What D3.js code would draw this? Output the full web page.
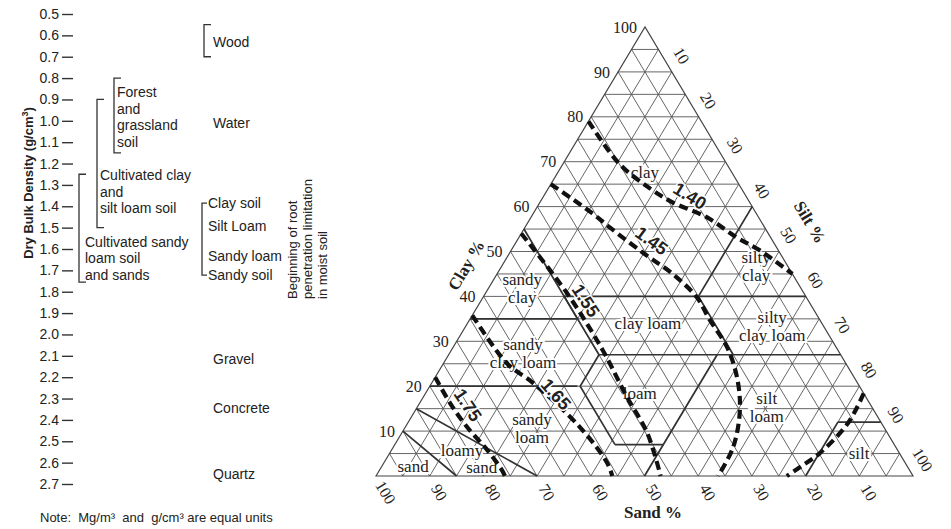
<!DOCTYPE html>
<html>
<head>
<meta charset="utf-8">
<script src="https://cdn.jsdelivr.net/npm/d3@7"></script>
<style>
body { margin: 0; background: #fff; }
text { fill: #222; }
</style>
</head>
<body>
<script>
var w = 951,
    h = 529;

// ---- left panel values (g/cm3) ----
var densityTicks = [0.5, 0.6, 0.7, 0.8, 0.9, 1.0, 1.1, 1.2, 1.3, 1.4, 1.5, 1.6, 1.7, 1.8, 1.9, 2.0, 2.1, 2.2, 2.3, 2.4, 2.5, 2.6, 2.7];
var materials = ['Wood', 'Water', 'Gravel', 'Concrete', 'Quartz'];
var materialDensity = [0.63, 1.01, 2.115, 2.345, 2.655];
var woodRange = [0.55, 0.70];
var soilNames = [['Forest', 'and', 'grassland', 'soil'],
                 ['Cultivated clay', 'and', 'silt loam soil'],
                 ['Cultivated sandy', 'loam soil', 'and sands']];
var soilRanges = [[0.80, 1.15], [0.90, 1.50], [1.25, 1.755]];
var soilLabelAt = [0.865, 1.255, 1.565];
var rootSoils = ['Clay soil', 'Silt Loam', 'Sandy loam', 'Sandy soil'];
var rootDensity = [1.385, 1.49, 1.633, 1.722];
var rootNote = ['Beginning of root', 'penetration limitation', 'in moist soil'];

// ---- texture triangle values, points are [clay %, silt %] ----
var ternTicks = [10, 20, 30, 40, 50, 60, 70, 80, 90, 100];
var classBounds = [
  [[40, 15], [40, 60]],
  [[40, 40], [60, 40]],
  [[40, 15], [55, 0]],
  [[35, 0], [35, 20]],
  [[35, 20], [40, 15]],
  [[40, 15], [27, 28]],
  [[27, 28], [27, 73]],
  [[40, 40], [27, 53]],
  [[20, 0], [20, 27.5]],
  [[27, 28], [20, 28], [7, 41]],
  [[7, 41], [7, 50]],
  [[0, 50], [27, 50]],
  [[12, 80], [12, 88]],
  [[12, 80], [0, 80]],
  [[15, 0], [0, 30]],
  [[10, 0], [0, 15]]
];
var classNames = [['clay'], ['silty', 'clay'], ['sandy', 'clay'], ['clay loam'], ['silty', 'clay loam'],
                  ['sandy', 'clay loam'], ['loam'], ['sandy', 'loam'], ['silt', 'loam'], ['silt'],
                  ['loamy'], ['sand'], ['sand']];
var classPos = [[67.6, 16.2], [46.7, 47.4], [41.8, 6.3], [34, 33.6], [33.3, 57.1],
                [27.3, 13.7], [18.4, 39.9], [10.7, 23.7], [15.3, 65.1], [5.1, 87.4],
                [5.8, 13.1], [2, 18.7], [2.2, 5.8]];

// bulk density limits (dashed)
var curve140 = [[79, 0], [69.6, 10.4], [64, 19], [60.9, 24.8], [57.6, 32.8], [53.1, 40.6], [50.2, 46.4], [45, 55]];
var curve145 = [[65, 0], [58.5, 11], [55.3, 15.9], [49.6, 25], [45, 32.7], [39.8, 39.8], [34.7, 44.8], [28.7, 51], [22, 56.2], [14.7, 60.4], [6.4, 63.3], [0, 63.7]];
var curve155 = [[54, 0], [40.7, 15.2], [28, 28.2], [17.6, 37.9], [9.6, 45.7], [0, 53]];
var curve165 = [[35.8, 0], [25.1, 11.8], [20.7, 18.9], [10.9, 32.5], [2.9, 41.6], [0, 44]];
var curve175 = [[22, 0], [16.2, 5.7], [10.9, 11.5], [5.8, 17.8], [1.3, 22.8], [0, 24]];
var curveSilt = [[18.4, 81.6], [11.8, 82], [5.1, 80.1], [2, 78], [0, 76.5]];
var curveLabels = ['1.40', '1.45', '1.55', '1.65', '1.75'];
var curveLabelPos = [[62.4, 27.2], [52.4, 25.1], [39.1, 19.5], [18.2, 24.4], [15.8, 9.2]];
var curveLabelAngle = [32, 36, 57, 49, 56];

var svg = d3.select('body')
  .append('svg')
  .attr('width', w)
  .attr('height', h);

// ================= left panel =================
var sans = '"Liberation Sans", Arial, sans-serif';
var yDens = d3.scaleLinear()
  .domain([0.5, 2.7])
  .range([14, 484]);

var left = svg.append('g')
  .style('font-family', sans);

var axis = left.append('g')
  .attr('transform', 'translate(73,0)')
  .call(d3.axisLeft(yDens)
    .tickValues(densityTicks)
    .tickSize(11)
    .tickPadding(3)
    .tickFormat(d3.format('.1f')));
axis.select('.domain').remove();
axis.selectAll('.tick line').attr('stroke', '#333').attr('stroke-width', 1.4);
axis.selectAll('.tick text')
  .attr('fill', '#222')
  .style('font-size', '14px')
  .style('font-family', sans);

var title = left.append('text')
  .attr('transform', 'translate(33,183) rotate(-90)')
  .attr('text-anchor', 'middle')
  .style('font-size', '13px')
  .style('font-weight', 'bold');
title.append('tspan').text('Dry Bulk Density (g/cm');
title.append('tspan').attr('dy', -5).style('font-size', '9px').text('3');
title.append('tspan').attr('dy', 5).text(')');

function bracket(x, y0, y1, len) {
  left.append('path')
    .attr('d', 'M' + (x + len) + ',' + y0 + 'H' + x + 'V' + y1 + 'H' + (x + len))
    .attr('fill', 'none')
    .attr('stroke', '#333')
    .attr('stroke-width', 1.3);
}

// material names
left.selectAll('.mat')
  .data(materials)
  .enter().append('text')
  .attr('x', 213)
  .attr('y', function(d, i) { return yDens(materialDensity[i]); })
  .attr('dy', '0.36em')
  .style('font-size', '14px')
  .text(function(d) { return d; });

bracket(204, yDens(woodRange[0]), yDens(woodRange[1]), 7);

var soilX = [114, 97, 79],
    soilTextX = [117, 100, 85];
soilNames.forEach(function(lines, i) {
  bracket(soilX[i], yDens(soilRanges[i][0]), yDens(soilRanges[i][1]), 7);
  left.selectAll('.s' + i)
    .data(lines)
    .enter().append('text')
    .attr('x', soilTextX[i])
    .attr('y', function(d, j) { return yDens(soilLabelAt[i]) + j * 16.5; })
    .attr('dy', '0.36em')
    .style('font-size', '14px')
    .text(function(d) { return d; });
});

bracket(202, yDens(rootDensity[0]), yDens(rootDensity[rootDensity.length - 1]), 5);
left.selectAll('.root')
  .data(rootSoils)
  .enter().append('text')
  .attr('x', 208)
  .attr('y', function(d, i) { return yDens(rootDensity[i]); })
  .attr('dy', '0.36em')
  .style('font-size', '14px')
  .text(function(d) { return d; });

left.selectAll('.rootnote')
  .data(rootNote)
  .enter().append('text')
  .attr('transform', function(d, i) { return 'translate(' + (297 + i * 15) + ',299) rotate(-90)'; })
  .style('font-size', '13px')
  .text(function(d) { return d; });

left.append('text')
  .attr('x', 40)
  .attr('y', 522)
  .attr('xml:space', 'preserve')
  .style('white-space', 'pre')
  .style('font-size', '13px')
  .text('Note:  Mg/m\u00b3  and  g/cm\u00b3 are equal units');

// ================= texture triangle =================
var serif = '"Liberation Serif", "Times New Roman", serif';
var A = [645, 27], BL = [376, 476], BR = [913, 476];
var yClay = d3.scaleLinear().domain([0, 100]).range([BL[1], A[1]]);
var xBase = d3.scaleLinear().domain([0, 100]).range([BL[0], BR[0]]);
var apexShift = (A[0] - BL[0]) / (BR[0] - BL[0]);

function P(d) { return [xBase(d[1] + d[0] * apexShift), yClay(d[0])]; }

var line = d3.line().x(function(d) { return P(d)[0]; }).y(function(d) { return P(d)[1]; });
var smooth = d3.line()
  .x(function(d) { return P(d)[0]; })
  .y(function(d) { return P(d)[1]; })
  .curve(d3.curveCatmullRom);

var tri = svg.append('g');

// 5% grid in the three directions
var grid = d3.range(5, 100, 5);
var gridLines = [];
grid.forEach(function(v) {
  gridLines.push([[v, 0], [v, 100 - v]]);       // clay constant
  gridLines.push([[0, v], [100 - v, v]]);       // silt constant
  gridLines.push([[0, 100 - v], [100 - v, 0]]); // sand constant
});
tri.selectAll('.grid')
  .data(gridLines)
  .enter().append('path')
  .attr('d', line)
  .attr('fill', 'none')
  .attr('stroke', '#555')
  .attr('stroke-width', 0.9);

tri.append('path')
  .attr('d', line([[0, 0], [100, 0], [0, 100]]) + 'Z')
  .attr('fill', 'none')
  .attr('stroke', '#444')
  .attr('stroke-width', 1.2);

tri.selectAll('.bound')
  .data(classBounds)
  .enter().append('path')
  .attr('d', line)
  .attr('fill', 'none')
  .attr('stroke', '#333')
  .attr('stroke-width', 1.7);

// tick labels
var rightDir = [(A[0] - BL[0]), (A[1] - BL[1])],
    baseDir = [(BR[0] - A[0]), (BR[1] - A[1])];
var rl = Math.hypot(rightDir[0], rightDir[1]), bl = Math.hypot(baseDir[0], baseDir[1]);
rightDir = [rightDir[0] / rl, rightDir[1] / rl];
baseDir = [baseDir[0] / bl, baseDir[1] / bl];
var tilt = Math.atan2(baseDir[1], baseDir[0]) * 180 / Math.PI;

var ticks = tri.append('g').style('font-family', serif).style('font-size', '16px');
ticks.selectAll('.ct')
  .data(ternTicks)
  .enter().append('text')
  .attr('x', function(d) { return P([d, 0])[0] - 8; })
  .attr('y', function(d) { return P([d, 0])[1]; })
  .attr('dy', '0.35em')
  .attr('text-anchor', 'end')
  .text(function(d) { return d; });

ticks.selectAll('.st')
  .data(ternTicks)
  .enter().append('text')
  .attr('transform', function(d) {
    var p = P([100 - d, d]);
    return 'translate(' + (p[0] + rightDir[0] * 19) + ',' + (p[1] + rightDir[1] * 19) + ') rotate(' + tilt + ')';
  })
  .attr('dy', '0.35em')
  .attr('text-anchor', 'middle')
  .text(function(d) { return d; });

ticks.selectAll('.sa')
  .data(ternTicks)
  .enter().append('text')
  .attr('transform', function(d) {
    var p = P([0, 100 - d]);
    return 'translate(' + (p[0] + baseDir[0] * 19) + ',' + (p[1] + baseDir[1] * 19) + ') rotate(' + tilt + ')';
  })
  .attr('dy', '0.35em')
  .attr('text-anchor', 'middle')
  .text(function(d) { return d; });

var titles = tri.append('g')
  .style('font-family', serif)
  .style('font-size', '17px')
  .style('font-weight', 'bold')
  .attr('text-anchor', 'middle');
titles.append('text').attr('transform', 'translate(466,265) rotate(' + (-tilt) + ')').attr('dy', '0.35em').text('Clay %');
titles.append('text').attr('transform', 'translate(810,222) rotate(' + tilt + ')').attr('dy', '0.35em').text('Silt %');
titles.append('text').attr('x', 653).attr('y', 512).attr('dy', '0.35em').text('Sand %');

// texture class names
var names = tri.append('g')
  .style('font-family', serif)
  .style('font-size', '17px')
  .attr('text-anchor', 'middle');
classNames.forEach(function(lines, i) {
  var p = P(classPos[i]);
  names.selectAll('.n' + i)
    .data(lines)
    .enter().append('text')
    .attr('x', p[0])
    .attr('y', function(d, j) { return p[1] + (j - (lines.length - 1) / 2) * 18; })
    .attr('dy', '0.35em')
    .attr('stroke', '#fff')
    .attr('stroke-width', 4)
    .attr('paint-order', 'stroke')
    .text(function(d) { return d; });
});

// dashed bulk density curves
var curves = [curve140, curve145, curve155, curve165, curve175, curveSilt];
tri.selectAll('.curve')
  .data(curves)
  .enter().append('path')
  .attr('d', smooth)
  .attr('fill', 'none')
  .attr('stroke', '#111')
  .attr('stroke-width', 4.2)
  .attr('stroke-dasharray', '9,5');

tri.selectAll('.clab')
  .data(curveLabels)
  .enter().append('text')
  .attr('transform', function(d, i) {
    var p = P(curveLabelPos[i]);
    return 'translate(' + p[0] + ',' + p[1] + ') rotate(' + curveLabelAngle[i] + ')';
  })
  .attr('dy', '0.35em')
  .attr('text-anchor', 'middle')
  .attr('stroke', '#fff')
  .attr('stroke-width', 3)
  .attr('paint-order', 'stroke')
  .style('font-family', sans)
  .style('font-weight', 'bold')
  .style('font-size', '18px')
  .text(function(d) { return d; });
</script>
</body>
</html>
